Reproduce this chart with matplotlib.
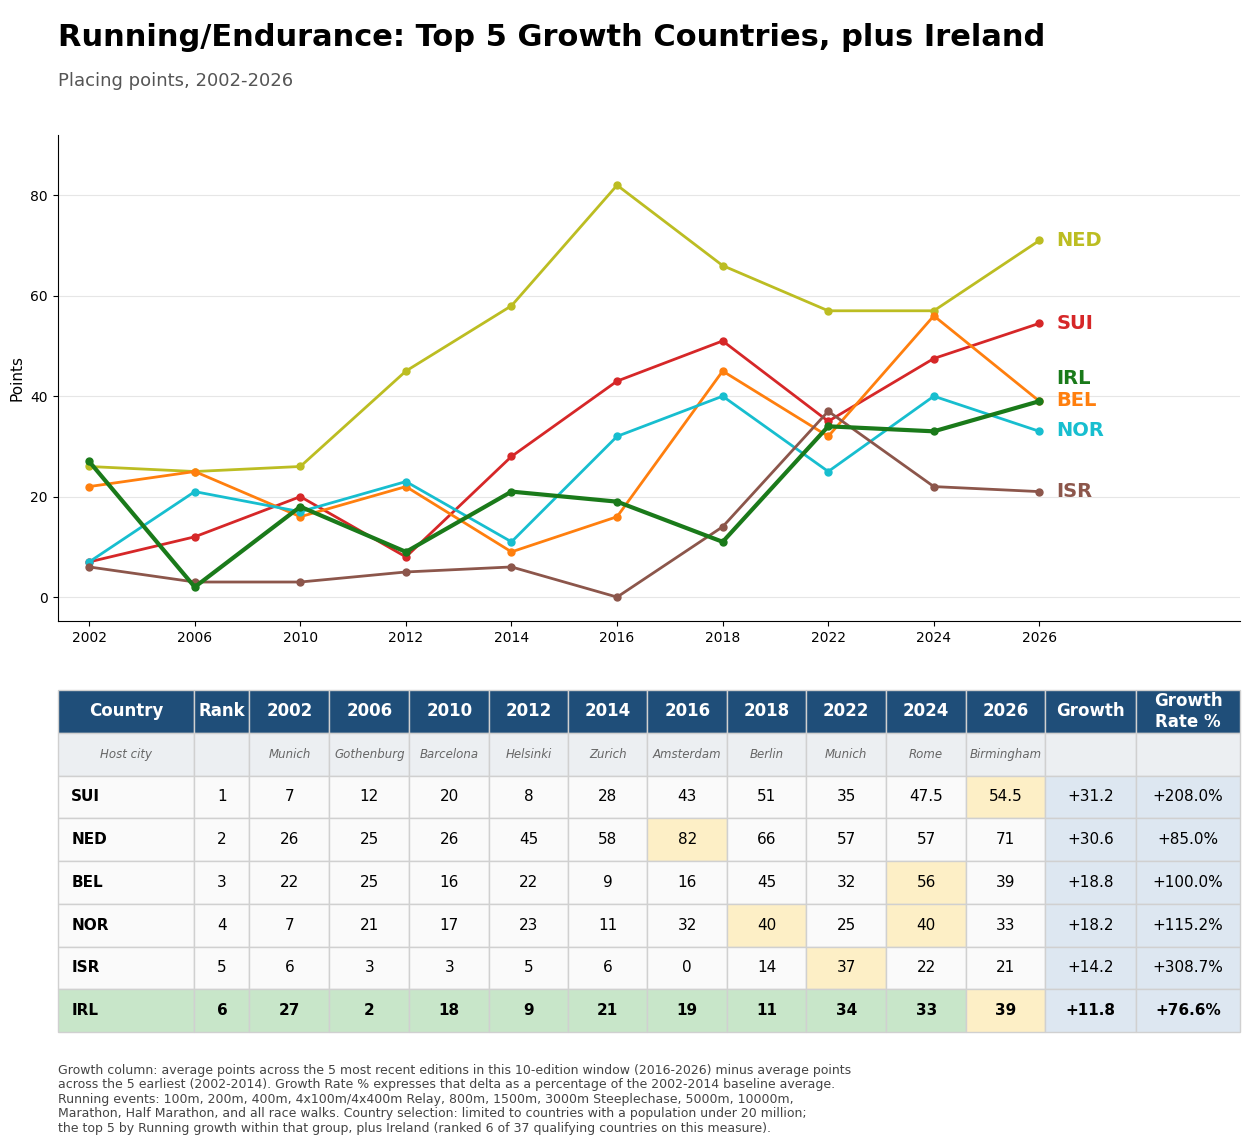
import numpy as np
import matplotlib
matplotlib.use('Agg')
from matplotlib import pyplot as plt

years = ['2002', '2006', '2010', '2012', '2014', '2016', '2018', '2022', '2024', '2026']
cities = ['Munich', 'Gothenburg', 'Barcelona', 'Helsinki', 'Zurich', 'Amsterdam',
          'Berlin', 'Munich', 'Rome', 'Birmingham']
countries = ['SUI', 'NED', 'BEL', 'NOR', 'ISR', 'IRL']
sui = [7, 12, 20, 8, 28, 43, 51, 35, 47.5, 54.5]
ned = [26, 25, 26, 45, 58, 82, 66, 57, 57, 71]
bel = [22, 25, 16, 22, 9, 16, 45, 32, 56, 39]
nor = [7, 21, 17, 23, 11, 32, 40, 25, 40, 33]
isr = [6, 3, 3, 5, 6, 0, 14, 37, 22, 21]
irl = [27, 2, 18, 9, 21, 19, 11, 34, 33, 39]
series = [sui, ned, bel, nor, isr, irl]
colors = ['#d62728', '#bcbd22', '#ff7f0e', '#17becf', '#8c564b', '#1a7a1a']
label_y = [54.5, 71, 39.2, 33.2, 21, 43.6]

fig = plt.figure(figsize=(12.5, 11.44), dpi=100)
fig.text(0.046, 0.980, 'Running/Endurance: Top 5 Growth Countries, plus Ireland',
         fontsize=22, fontweight='bold', va='top')
fig.text(0.046, 0.937, 'Placing points, 2002-2026', fontsize=13, color='#555555', va='top')

# line chart
ax = fig.add_axes([0.046, 0.457, 0.946, 0.425])
x = np.arange(len(years))
for name, vals, c, ly in zip(countries, series, colors, label_y):
    irish = name == 'IRL'
    ax.plot(x, vals, color=c, lw=3 if irish else 2, marker='o', ms=5,
            zorder=3 if irish else 2)
    ax.text(x[-1] + 0.16, ly, name, color=c, fontsize=14, fontweight='bold', va='center')
ax.set_xticks(x)
ax.set_xticklabels(years, fontsize=11)
ax.set_xlim(-0.3, 10.9)
ax.set_ylim(-4.8, 92)
ax.set_yticks([0, 20, 40, 60, 80])
ax.tick_params(labelsize=10)
ax.set_ylabel('Points', fontsize=11)
ax.grid(axis='y', color='#e6e6e6')
ax.set_axisbelow(True)
ax.spines['top'].set_visible(False)
ax.spines['right'].set_visible(False)

# table
first = [np.mean(v[:5]) for v in series]
last = [np.mean(v[5:]) for v in series]
header = ['Country', 'Rank'] + years + ['Growth', 'Growth\nRate %']
rows = [['Host city', ''] + cities + ['', '']]
for i, (name, vals) in enumerate(zip(countries, series)):
    d = last[i] - first[i]
    cells = [('%g' % v) for v in vals]
    rows.append([name, str(i + 1)] + cells + ['%+.1f' % d, '%+.1f%%' % (100 * d / first[i])])

widths = np.array([137, 55, 80, 80, 80, 79, 79, 80, 79, 80, 80, 79, 91, 104], float)
tax = fig.add_axes([0.046, 1 - 1032 / 1144, 0.946, 342 / 1144])
tax.axis('off')
tbl = tax.table(cellText=rows, colLabels=header, colWidths=list(widths / widths.sum()),
                bbox=[0, 0, 1, 1], cellLoc='center')
tbl.auto_set_font_size(False)
ncol = len(header)
for (r, c), cell in tbl.get_celld().items():
    cell.set_edgecolor('#d0d0d0')
    txt = cell.get_text()
    txt.set_fontsize(11)
    if r == 0:
        cell.set_facecolor('#1f4e79')
        txt.set_color('white')
        txt.set_fontweight('bold')
        txt.set_fontsize(12)
        continue
    if r == 1:
        cell.set_facecolor('#eceff2')
        txt.set_fontstyle('italic')
        txt.set_color('#666666')
        txt.set_fontsize(8.5)
        continue
    vals = series[r - 2]
    irish = countries[r - 2] == 'IRL'
    cell.set_facecolor('#c8e6c9' if irish else '#fafafa')
    if irish:
        txt.set_fontweight('bold')
    if c == 0:
        txt.set_fontweight('bold')
        txt.set_ha('left')
        cell.PAD = 0.1
    if 2 <= c < 12 and vals[c - 2] == max(vals):
        cell.set_facecolor('#fdefc6')
    if c >= 12:
        cell.set_facecolor('#dde7f1')

fig.text(0.046, 0.070,
         'Growth column: average points across the 5 most recent editions in this 10-edition window (2016-2026) minus average points\n'
         'across the 5 earliest (2002-2014). Growth Rate % expresses that delta as a percentage of the 2002-2014 baseline average.\n'
         'Running events: 100m, 200m, 400m, 4x100m/4x400m Relay, 800m, 1500m, 3000m Steeplechase, 5000m, 10000m,\n'
         'Marathon, Half Marathon, and all race walks. Country selection: limited to countries with a population under 20 million;\n'
         'the top 5 by Running growth within that group, plus Ireland (ranked 6 of 37 qualifying countries on this measure).',
         fontsize=9, color='#444444', va='top', linespacing=1.15)

fig.savefig('out.png')
